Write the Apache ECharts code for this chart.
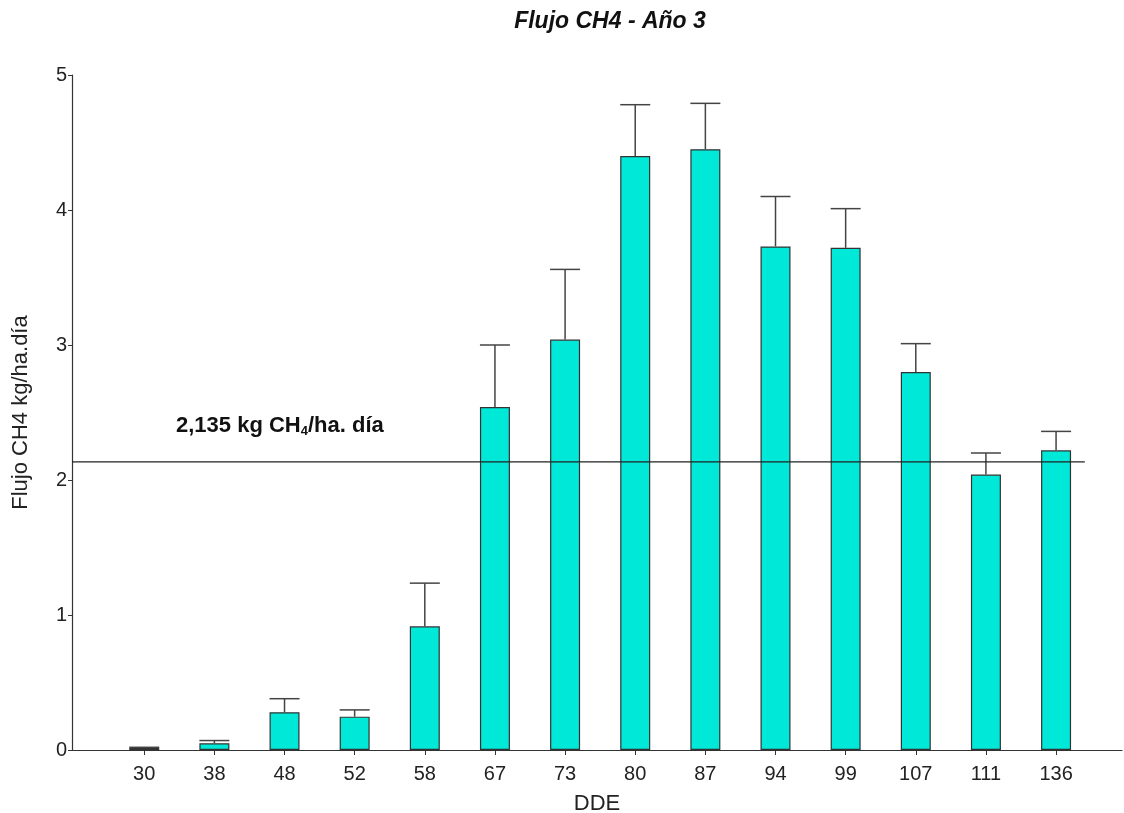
<!DOCTYPE html>
<html>
<head>
<meta charset="utf-8">
<title>Flujo CH4 - Año 3</title>
<script src="https://cdn.jsdelivr.net/npm/echarts@6/dist/echarts.min.js"></script>
<style>
  html, body { margin: 0; padding: 0; background: #ffffff; }
  #chart { width: 1124px; height: 813px; }
</style>
</head>
<body>
<div id="chart"></div>
<script>
// Días después de la emergencia (DDE)
const days = ['30', '38', '48', '52', '58', '67', '73', '80', '87', '94', '99', '107', '111', '136'];
// Flujo medio de CH4 (kg/ha.día)
const flux = [0.015, 0.05, 0.28, 0.247, 0.916, 2.54, 3.04, 4.40, 4.45, 3.73, 3.72, 2.80, 2.04, 2.22];
// Error estándar (barra superior)
const fluxSE = [0.005, 0.02, 0.10, 0.05, 0.32, 0.46, 0.52, 0.38, 0.34, 0.37, 0.29, 0.21, 0.16, 0.14];
// Flujo medio de la campaña
const meanFlux = 2.135;
const yTicks = [0, 1, 2, 3, 4, 5];

const FONT = 'Arial, "Liberation Sans", Helvetica, sans-serif';
const dayIndex = days.map((d, i) => i);
const xMin = -1.03;
const xMax = 13.94;

const chart = echarts.init(document.getElementById('chart'));

chart.setOption({
  animation: false,
  backgroundColor: '#ffffff',
  title: {
    text: 'Flujo CH4 - Año 3',
    left: 605,
    top: 5,
    textAlign: 'center',
    textStyle: { fontFamily: FONT, fontSize: 23, fontWeight: 'bold', fontStyle: 'italic', color: '#111' }
  },
  grid: { left: 72, right: 2, top: 75, bottom: 63, containLabel: false, outerBoundsMode: 'none' },
  xAxis: {
    type: 'value',
    min: xMin,
    max: xMax,
    name: 'DDE',
    nameLocation: 'middle',
    nameGap: 43,
    nameTextStyle: { fontFamily: FONT, fontSize: 22, color: '#222' },
    axisLine: { show: true, onZero: false, lineStyle: { color: '#333', width: 1.2 } },
    axisTick: { show: true, customValues: dayIndex, length: 5, lineStyle: { color: '#333' } },
    axisLabel: {
      customValues: dayIndex,
      formatter: v => days[Math.round(v)],
      fontFamily: FONT, fontSize: 20, color: '#222', margin: 14
    },
    splitLine: { show: false }
  },
  yAxis: {
    type: 'value',
    min: yTicks[0],
    max: yTicks[yTicks.length - 1],
    interval: 1,
    name: 'Flujo CH4 kg/ha.día',
    nameLocation: 'middle',
    nameGap: 40,
    nameTextStyle: { fontFamily: FONT, fontSize: 22, color: '#222' },
    axisLine: { show: true, onZero: false, lineStyle: { color: '#333', width: 1.2 } },
    axisTick: { show: true, length: 4, lineStyle: { color: '#333' } },
    axisLabel: { fontFamily: FONT, fontSize: 20, color: '#222', margin: 5 },
    splitLine: { show: false }
  },
  graphic: [{
    type: 'text',
    left: 176,
    top: 415,
    style: {
      text: '{b|2,135 kg CH}{s|4}{b|/ha. día}',
      rich: {
        b: { fontFamily: FONT, fontSize: 22, fontWeight: 'bold', fill: '#111' },
        s: { fontFamily: FONT, fontSize: 13, fontWeight: 'bold', fill: '#111', verticalAlign: 'bottom', padding: [10, 0, 0, 0] }
      }
    }
  }],
  series: [
    {
      type: 'bar',
      data: flux.map((v, i) => [i, v]),
      barWidth: 30,
      itemStyle: { color: '#00E8D8', borderColor: '#333', borderWidth: 1.2 },
      z: 2
    },
    {
      type: 'custom',
      data: flux.map((v, i) => [i, v, v + fluxSE[i]]),
      renderItem: function (params, api) {
        const base = api.coord([api.value(0), api.value(1)]);
        const top = api.coord([api.value(0), api.value(2)]);
        const half = 15;
        const style = { stroke: '#444', lineWidth: 1.5 };
        return {
          type: 'group',
          children: [
            { type: 'line', shape: { x1: base[0], y1: base[1], x2: top[0], y2: top[1] }, style: style },
            { type: 'line', shape: { x1: top[0] - half, y1: top[1], x2: top[0] + half, y2: top[1] }, style: style }
          ]
        };
      },
      z: 3
    },
    {
      type: 'line',
      data: [[xMin, meanFlux], [13.41, meanFlux]],
      symbol: 'none',
      lineStyle: { color: '#222', width: 1.3 },
      z: 4
    }
  ]
});
</script>
</body>
</html>
